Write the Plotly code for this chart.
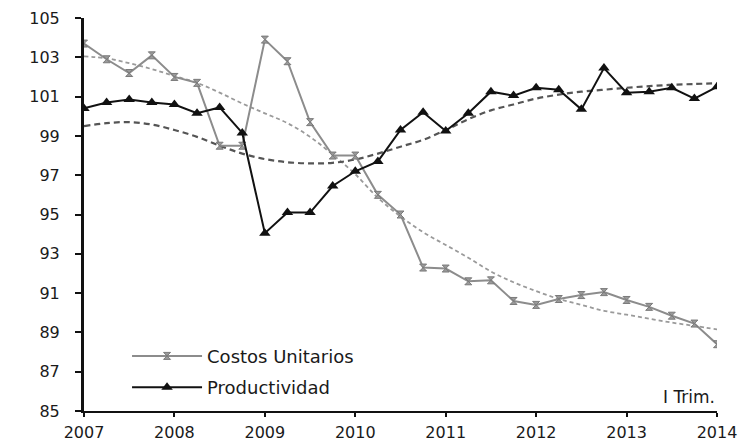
import plotly.graph_objects as go

# Quarterly periods: 2007 I Trim. to 2014 I Trim.
years = [2007]*4 + [2008]*4 + [2009]*4 + [2010]*4 + [2011]*4 + [2012]*4 + [2013]*4 + [2014]
quarters = [1, 2, 3, 4]*7 + [1]
x_pos = [y + (q - 1) / 4 for y, q in zip(years, quarters)]

costos_unitarios = [103.7, 102.9, 102.2, 103.1, 102.0, 101.7, 98.5, 98.5,
                    103.9, 102.8, 99.7, 98.0, 98.0, 96.0, 95.0, 92.3,
                    92.25, 91.6, 91.65, 90.6, 90.4, 90.7, 90.9, 91.05,
                    90.65, 90.3, 89.85, 89.45, 88.4]
productividad = [100.4, 100.7, 100.85, 100.7, 100.6, 100.15, 100.45, 99.15,
                 94.05, 95.1, 95.1, 96.45, 97.2, 97.7, 99.3, 100.2,
                 99.25, 100.15, 101.25, 101.05, 101.45, 101.35, 100.35, 102.45,
                 101.2, 101.25, 101.45, 100.9, 101.5]
tend_costos = [103.05, 102.95, 102.7, 102.4, 102.05, 101.7, 101.2, 100.65,
               100.15, 99.65, 98.95, 98.05, 97.05, 95.85, 94.9, 94.1,
               93.45, 92.8, 92.1, 91.55, 91.1, 90.7, 90.4, 90.1,
               89.9, 89.7, 89.5, 89.33, 89.15]
tend_productividad = [99.5, 99.65, 99.7, 99.58, 99.3, 98.95, 98.5, 98.1,
                      97.82, 97.66, 97.6, 97.63, 97.8, 98.1, 98.45, 98.8,
                      99.3, 99.85, 100.3, 100.6, 100.9, 101.1, 101.25, 101.35,
                      101.45, 101.53, 101.6, 101.64, 101.68]
y_ticks = list(range(85, 106, 2))
x_ticks = list(range(2007, 2015))

FONT = "DejaVu Sans, Liberation Sans, Arial, sans-serif"
TXT = "#1a1a1a"

fig = go.Figure()
fig.add_trace(go.Scatter(x=x_pos, y=tend_costos, mode="lines", showlegend=False,
                         line=dict(color="#9a9a9a", width=1.8, dash="4px,3px", shape="spline"),
                         hoverinfo="skip"))
fig.add_trace(go.Scatter(x=x_pos, y=tend_productividad, mode="lines", showlegend=False,
                         line=dict(color="#555555", width=2.2, dash="6px,4px", shape="spline"),
                         hoverinfo="skip"))
fig.add_trace(go.Scatter(x=x_pos, y=costos_unitarios, mode="lines+markers",
                         name="Costos Unitarios", legendgroup="c",
                         line=dict(color="#8c8c8c", width=2),
                         marker=dict(symbol="hourglass", size=7, color="#9a9a9a",
                                     line=dict(color="#7a7a7a", width=1))))
fig.add_trace(go.Scatter(x=x_pos, y=productividad, mode="lines+markers",
                         name="Productividad", legendgroup="p",
                         line=dict(color="#111111", width=2),
                         marker=dict(symbol="triangle-up", size=10, color="#111111")))

fig.add_annotation(x=2014, y=85, xref="x", yref="y", text="I Trim.",
                   showarrow=False, xanchor="right", yanchor="bottom", yshift=2,
                   font=dict(family=FONT, size=17, color=TXT))

fig.update_layout(
    width=746, height=434,
    margin=dict(l=76, r=37, t=10, b=31, autoexpand=False),
    paper_bgcolor="white", plot_bgcolor="white",
    font=dict(family=FONT, size=16, color=TXT),
    showlegend=True,
    legend=dict(x=0.068, y=0.1, xanchor="left", yanchor="middle",
                bgcolor="rgba(0,0,0,0)", itemwidth=70, traceorder="grouped",
                tracegroupgap=5,
                font=dict(family=FONT, size=18, color=TXT)),
    xaxis=dict(range=[2007, 2014], tickmode="array", tickvals=x_ticks,
               ticktext=[str(v) for v in x_ticks], automargin=False,
               ticklabeloverflow="allow",
               showgrid=False, zeroline=False, showline=True,
               linecolor="#111111", linewidth=2, ticks="outside", ticklen=4,
               tickcolor="#111111", tickwidth=2, ticklabelstandoff=2,
               tickfont=dict(family=FONT, size=16, color=TXT)),
    yaxis=dict(range=[85, 105], tickmode="array", tickvals=y_ticks,
               automargin=False, ticklabeloverflow="allow",
               showgrid=False, zeroline=False, showline=True,
               linecolor="#111111", linewidth=3, ticks="outside", ticklen=6,
               tickcolor="#111111", tickwidth=1.5, ticklabelstandoff=12,
               tickfont=dict(family=FONT, size=16, color=TXT)),
)

fig.write_html("out.html")
